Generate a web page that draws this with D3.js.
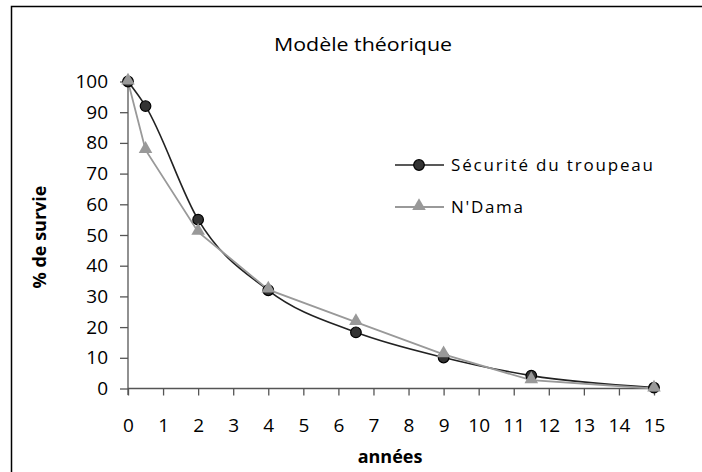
<!DOCTYPE html>
<html><head><meta charset="utf-8">
<script src="https://cdn.jsdelivr.net/npm/d3@7"></script>
<style>body{margin:0;background:#fff}svg{display:block}text{font-family:"Open Sans",sans-serif}</style>
</head><body>
<svg id="c" width="702" height="472"></svg>
<script>
const years = [0, 0.5, 2, 4, 6.5, 9, 11.5, 15];
const securite = [100, 92, 55, 32, 18.3, 10.1, 4.2, 0.3];
const ndama = [100, 77.7, 51, 32.2, 21.6, 11.1, 2.7, 0];
const xTicks = d3.range(0, 16, 1);
const yTicks = d3.range(0, 101, 10);
const seriesNames = ["Sécurité du troupeau", "N'Dama"];

const svg = d3.select("#c");
svg.append("rect").attr("x", 11.5).attr("y", 6.5).attr("width", 720).attr("height", 500)
  .attr("fill", "#fff").attr("stroke", "#000").attr("stroke-width", 1.5);

const x = d3.scaleLinear().domain([0, 15]).range([128, 654]);
const y = d3.scaleLinear().domain([0, 100]).range([388.5, 81.5]);

// axes
const yAxis = svg.append("g").attr("transform", "translate(128,0)")
  .call(d3.axisLeft(y).tickValues(yTicks).tickSize(8).tickPadding(12).tickSizeOuter(0));
const xAxis = svg.append("g").attr("transform", "translate(0,388.5)")
  .call(d3.axisBottom(x).tickValues(xTicks).tickSize(7).tickPadding(23).tickSizeOuter(0));
[yAxis, xAxis].forEach(g => {
  g.select(".domain").attr("stroke", "#555").attr("stroke-width", 1.3);
  g.selectAll(".tick line").attr("stroke", "#555").attr("stroke-width", 1.3);
  g.selectAll(".tick text").attr("font-size", 19).attr("fill", "#000")
    .attr("font-family", "'Open Sans',sans-serif");
});
yAxis.select(".domain").attr("d", "M0,81.5V395");
xAxis.select(".domain").attr("d", "M128,0H656");

// lines
const pts1 = years.map((d, i) => [x(d), y(securite[i])]);
const pts2 = years.map((d, i) => [x(d), y(ndama[i])]);
svg.append("path").attr("d", d3.line().curve(d3.curveMonotoneX)(pts1))
  .attr("fill", "none").attr("stroke", "#222").attr("stroke-width", 1.6);
svg.append("path").attr("d", d3.line()(pts2))
  .attr("fill", "none").attr("stroke", "#999").attr("stroke-width", 1.8);

const tri = d3.symbol().type(d3.symbolTriangle).size(80);
svg.selectAll(".c1").data(pts1).join("circle").attr("cx", d => d[0]).attr("cy", d => d[1])
  .attr("r", 5.3).attr("fill", "#333").attr("stroke", "#000").attr("stroke-width", 1.2);
svg.selectAll(".t2").data(pts2).join("path").attr("d", tri)
  .attr("transform", d => `translate(${d[0]},${d[1] - 1})`).attr("fill", "#999");

// title
svg.append("text").attr("x", 363).attr("y", 51).attr("text-anchor", "middle")
  .attr("font-size", 18).attr("textLength", 178).attr("lengthAdjust", "spacingAndGlyphs")
  .text("Modèle théorique");
// axis titles
svg.append("text").attr("x", 390).attr("y", 463).attr("text-anchor", "middle")
  .attr("font-size", 18).attr("font-weight", "bold").text("années");
svg.append("text").attr("transform", "translate(46,237) rotate(-90)").attr("text-anchor", "middle")
  .attr("font-size", 18).attr("font-weight", "bold").text("% de survie");

// legend
const leg = [{y: 165, name: seriesNames[0], c: "#222"}, {y: 207, name: seriesNames[1], c: "#999"}];
leg.forEach((l, i) => {
  svg.append("line").attr("x1", 395).attr("x2", 444).attr("y1", l.y).attr("y2", l.y)
    .attr("stroke", l.c).attr("stroke-width", i ? 1.8 : 1.6);
  if (i === 0) svg.append("circle").attr("cx", 419).attr("cy", l.y).attr("r", 5.3)
    .attr("fill", "#333").attr("stroke", "#000").attr("stroke-width", 1.2);
  else svg.append("path").attr("d", tri).attr("transform", `translate(419,${l.y - 1})`).attr("fill", "#999");
  svg.append("text").attr("x", 451).attr("y", l.y + 6).attr("font-size", 17)
    .attr("textLength", i ? 72 : 202).attr("lengthAdjust", "spacing").text(l.name);
});
</script>
</body></html>
